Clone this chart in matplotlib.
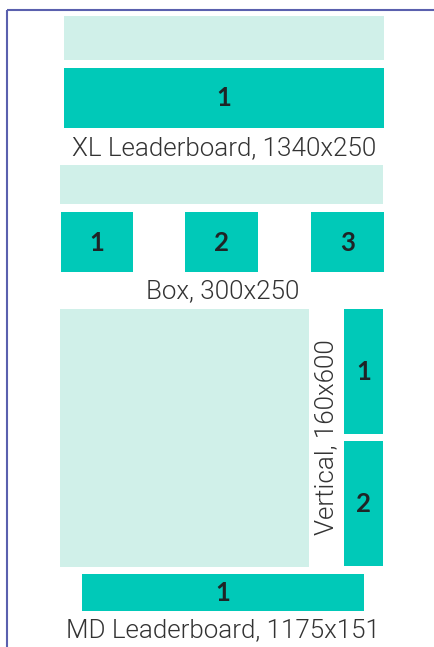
import matplotlib
matplotlib.use("Agg")
import matplotlib.pyplot as plt
from matplotlib.patches import Rectangle

# ---- content ----
title = "Display"
unit_names = ["XL Leaderboard, 1340x250", "Box, 300x250", "Vertical, 160x600", "MD Leaderboard, 1175x151"]
xl_slots = ["1"]
box_slots = ["1", "2", "3"]
vertical_slots = ["1", "2"]
md_slots = ["1"]

# ---- styles ----
TEAL = "#00C9B8"
LIGHT = "#D0F0E9"
FRAME = "#5A60AE"
TXT = "#333333"
NUM = "#1F2426"
W, H = 435, 647

fig = plt.figure(figsize=(W / 100, H / 100), dpi=100)
ax = fig.add_axes([0, 0, 1, 1])
ax.set_xlim(0, W)
ax.set_ylim(H, 0)
ax.axis("off")

def rect(x0, y0, x1, y1, color):
    ax.add_patch(Rectangle((x0, y0), x1 - x0, y1 - y0, facecolor=color, edgecolor="none"))

def num(x, y, s):
    ax.text(x, y, s, ha="center", va="center", fontsize=18.5, fontweight="bold",
            family=["Lato", "DejaVu Sans"], color=NUM)

def label(x, y, s, rot=0):
    ax.text(x, y, s, ha="center", va="center", fontsize=18.7, fontweight=300,
            family=["Roboto", "DejaVu Sans"], color=TXT, rotation=rot)

# frame
ax.plot([7.5, 7.5], [9.5, H + 5], color=FRAME, lw=1.5, solid_capstyle="butt")
ax.plot([7.5, W + 5], [9.5, 9.5], color=FRAME, lw=1.5, solid_capstyle="butt")

# cut-off title (only descenders visible, as in the reference)
ax.text(238, -4.5, title, ha="center", va="baseline", fontsize=20, family=["Lato", "DejaVu Sans"], color=TXT)

# XL leaderboard
rect(64, 16, 384, 60, LIGHT)
rect(64, 68, 384, 128, TEAL)
num(224, 98, xl_slots[0])
label(224, 148, unit_names[0])

# Box row
rect(60, 165, 383, 204, LIGHT)
box_x = [(61, 133), (185, 258), (311, 384)]
for (x0, x1), s in zip(box_x, box_slots):
    rect(x0, 212, x1, 272, TEAL)
    num((x0 + x1) / 2, 243, s)
label(223, 291, unit_names[1])

# Vertical area
rect(60, 309, 309, 567, LIGHT)
vert_y = [(309, 434), (441, 566)]
for (y0, y1), s in zip(vert_y, vertical_slots):
    rect(344, y0, 383, y1, TEAL)
    num(363.5, (y0 + y1) / 2, s)
label(326, 437, unit_names[2], rot=90)

# MD leaderboard
rect(82, 574, 364, 611, TEAL)
num(223, 593, md_slots[0])
label(223, 630, unit_names[3])

fig.savefig("out.png", dpi=100)
